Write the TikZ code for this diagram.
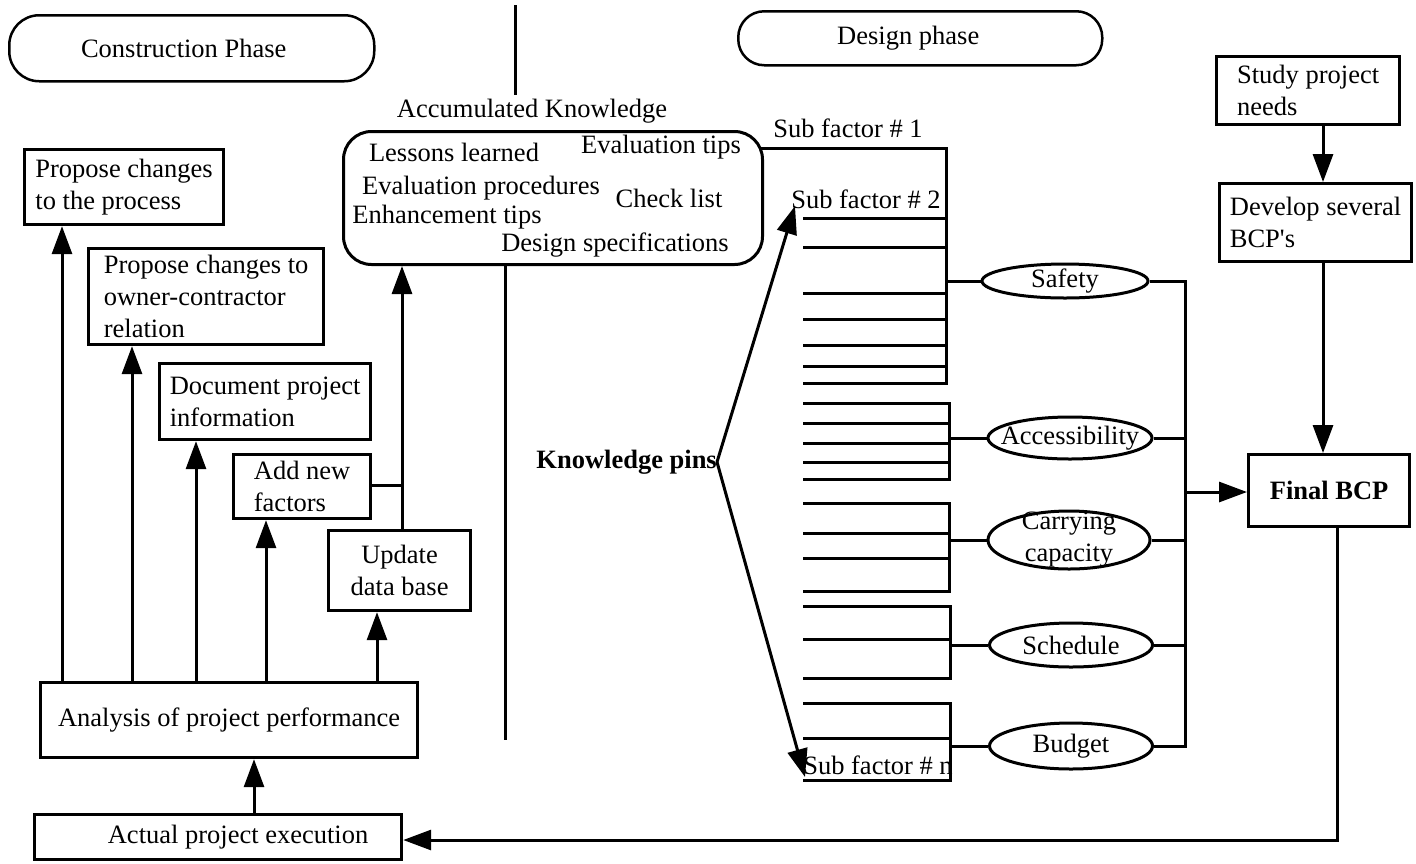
\documentclass[tikz,border=0pt]{standalone}
\usepackage{fontspec}
\setmainfont{Liberation Serif}
\usetikzlibrary{arrows.meta,shapes.geometric}
\begin{document}
\begin{tikzpicture}[x=1pt,y=-1pt,
  every node/.style={font=\fontsize{26.5pt}{32pt}\selectfont, inner sep=0pt},
  box/.style={draw, line width=3.2pt, anchor=north west, align=left},
  cbox/.style={draw, line width=3.2pt, anchor=north west, align=center},
  phase/.style={draw, line width=2.5pt, anchor=north west},
  oval/.style={draw, ellipse, line width=3pt, inner sep=0pt},
  arr/.style={line width=3pt, -{Triangle[length=28pt,width=20pt]}},
  ln/.style={line width=3pt},
  comb/.style={line width=3pt}
]
\useasboundingbox (0,0) rectangle (1416,863);

% phases
\node[phase, rounded corners=30pt, minimum width=365pt, minimum height=66pt] (cons) at (8,14) {Construction Phase\hspace*{16pt}};
\node[phase, rounded corners=26pt, minimum width=364pt, minimum height=54pt] (des) at (737,10) {Design phase\hspace*{24pt}};

% accumulated knowledge
\coordinate (aktop) at (515,5);
\node (ak) at (532,111) {Accumulated Knowledge};
\draw[ln] (aktop) -- (515,95);
\node[draw, line width=3pt, rounded corners=28pt, anchor=north west, minimum width=419pt, minimum height=133pt] (kb) at (342,130) {};
\node (t1) at (454,152) {Lessons learned};
\node (t2) at (661,147) {Evaluation tips};
\node (t3) at (481,188) {Evaluation procedures};
\node (t4) at (669,198) {Check list};
\node (t5) at (447,217) {Enhancement tips};
\node (t6) at (615,245) {Design specifications};
\coordinate (kbx) at (505,0);
\draw[ln] (kbx |- kb.south) -- (505,740);

% left boxes
\node[box, minimum width=199pt, minimum height=75pt] (p1) at (23,148) {Propose changes\\to the process};
\node[box, minimum width=235pt, minimum height=96pt] (p2) at (87,247) {Propose changes to\\owner-contractor\\relation};
\node[box, minimum width=211pt, minimum height=76pt] (p3) at (158,362) {Document project\\information};
\node[box, minimum width=137pt, minimum height=64pt] (p4) at (232,453) {Add new\\factors};
\node[cbox, minimum width=142pt, minimum height=80pt] (p5) at (327,529) {Update\\data base};
\node[box, minimum width=377pt, minimum height=75pt] (ana) at (39,681) {Analysis of project performance};
\node[box, minimum width=367pt, minimum height=45pt] (act) at (33,813) {\hspace*{40pt}Actual project execution};

\coordinate (a1) at (62,0);
\coordinate (a2) at (132,0);
\coordinate (a3) at (196,0);
\coordinate (a4) at (266,0);
\coordinate (a5) at (377,0);
\coordinate (a6) at (402,0);
\coordinate (a7) at (254,0);
\draw[arr] (a1 |- ana.north) -- (a1 |- p1.south);
\draw[arr] (a2 |- ana.north) -- (a2 |- p2.south);
\draw[arr] (a3 |- ana.north) -- (a3 |- p3.south);
\draw[arr] (a4 |- ana.north) -- (a4 |- p4.south);
\draw[arr] (a5 |- ana.north) -- (a5 |- p5.south);
\draw[arr] (a6 |- p5.north) -- (a6 |- kb.south);
\coordinate (j4) at (402,485);
\draw[ln] (p4.east |- j4) -- (j4);
\draw[arr] (a7 |- act.north) -- (a7 |- ana.south);

% knowledge pins
\node[font=\fontsize{26.5pt}{32pt}\selectfont\bfseries, anchor=east] (kp) at (717,462) {Knowledge pins};
\coordinate (sf2t) at (795,206);
\coordinate (sfnt) at (805,777);
\draw[arr] (kp.east) -- (sf2t);
\draw[arr] (kp.east) -- (sfnt);

\node (sf1) at (848,128) {Sub factor \# 1};
\node (sf2) at (866,199) {Sub factor \# 2};
\node (sfn) at (878,765) {Sub factor \# n};

% ellipses
\node[oval, minimum width=166pt, minimum height=34pt, label=center:Safety] (saf) at (1065,281) {};
\node[oval, minimum width=164pt, minimum height=42pt, label=center:Accessibility] (acc) at (1070,438) {};
\node[oval, minimum width=162pt, minimum height=58pt, label={[align=center]center:Carrying\\capacity}] (car) at (1069,540) {};
\node[oval, minimum width=163pt, minimum height=44pt, label=center:Schedule] (sch) at (1071,645) {};
\node[oval, minimum width=163pt, minimum height=46pt, label=center:Budget] (bud) at (1071,746) {};

% comb groups
\draw[comb] (761,148) -- (946,148) -- (946,383) -- (803,383);
\foreach \y in {218,247,293,319,345,366} \draw[comb] (803,\y) -- (946,\y);
\draw[comb] (946,281) -- (saf.west);

\draw[comb] (803,403) -- (949,403) -- (949,479) -- (803,479);
\foreach \y in {423,443,462} \draw[comb] (803,\y) -- (949,\y);
\draw[comb] (949,438) -- (acc.west);

\draw[comb] (803,503) -- (949,503) -- (949,591) -- (803,591);
\foreach \y in {533,558} \draw[comb] (803,\y) -- (949,\y);
\draw[comb] (949,540) -- (car.west);

\draw[comb] (803,606) -- (950,606) -- (950,678) -- (803,678);
\draw[comb] (803,639) -- (950,639);
\draw[comb] (950,645) -- (sch.west);

\draw[comb] (803,703) -- (950,703) -- (950,780) -- (803,780);
\draw[comb] (803,738) -- (950,738);
\draw[comb] (950,746) -- (bud.west);

% bus
\coordinate (bx) at (1185,0);
\draw[ln] (saf.east) -- (bx |- saf.east) -- (bx |- bud.east) -- (bud.east);
\draw[ln] (acc.east) -- (bx |- acc.east);
\draw[ln] (car.east) -- (bx |- car.east);
\draw[ln] (sch.east) -- (bx |- sch.east);

% right column
\node[box, minimum width=183pt, minimum height=68pt] (stu) at (1215,55) {Study project\\needs};
\node[box, minimum width=192pt, minimum height=78pt] (dev) at (1218,182) {Develop several\\BCP\textquotesingle s};
\node[box, minimum width=161pt, minimum height=72pt, font=\fontsize{26.5pt}{32pt}\selectfont\bfseries] (fin) at (1247,453) {Final BCP};
\coordinate (sx) at (1323,0);
\draw[arr] (sx |- stu.south) -- (sx |- dev.north);
\draw[arr] (sx |- dev.south) -- (sx |- fin.north);
\coordinate (bj) at (1185,492);
\draw[arr] (bj) -- (fin.west |- bj);

\coordinate (fx) at (1337,0);
\coordinate (fb) at (1337,840);
\draw[arr] (fx |- fin.south) -- (fb) -- (fb -| act.east);
\end{tikzpicture}
\end{document}
